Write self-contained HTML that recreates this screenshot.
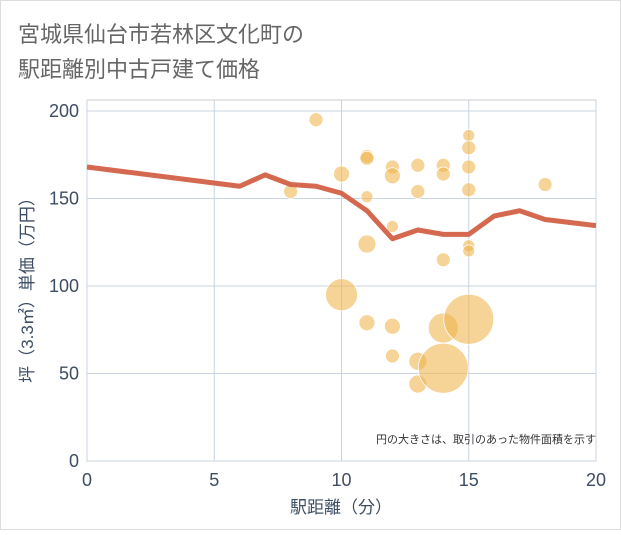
<!DOCTYPE html>
<html><head><meta charset="utf-8"><style>
body{margin:0;background:#fff;font-family:"Liberation Sans","Noto Sans CJK JP",sans-serif;}
svg text{font-family:"Liberation Sans","Noto Sans CJK JP",sans-serif;}
</style></head><body>
<svg width="621" height="530">
<rect x="0.5" y="0.5" width="620" height="529" fill="#fff" stroke="#ddd"/>
<text x="18" y="42" font-size="22" fill="#666">宮城県仙台市若林区文化町の</text>
<text x="18" y="77" font-size="22" fill="#666">駅距離別中古戸建て価格</text>
<g id="plot"></g>
<text x="596" y="443" font-size="11" fill="#333" text-anchor="end">円の大きさは、取引のあった物件面積を示す</text>
<text x="341" y="513" font-size="17" fill="#3d4d63" text-anchor="middle">駅距離（分）</text>
<text transform="translate(33,286) rotate(-90)" font-size="17" fill="#3d4d63" text-anchor="middle">坪（3.3㎡）単価（万円）</text>
</svg>
<script>
const xTicks=[0,5,10,15,20];
const yTicks=[0,50,100,150,200];
const lineX=[0,6,7,8,9,10,11,12,13,14,15,16,17,18,20];
const lineY=[168,157,163.5,158,157,153,143,127,132,129.5,129.5,140,143,138,134.5];
const bubX=[8,9,10,10,11,11,11,11,11,12,12,12,12,12,13,13,13,13,14,14,14,14,14,15,15,15,15,15,15,15,18];
const bubY=[154,195,164,95,174,173,151,124,79,168,163,134,77,60,169,154,57,44,169,164,115,76,53,186,179,168,155,123,120,81,158];
const bubR=[7,7,8,16,7,7,6,9,8,7,8,6,8,7,7,7,9,9,7,7,7,15,25,6,7,7,7,6,6,25,7];
const X0=87,X1=596,Y0=461,Y1=111;
const sx=v=>X0+(X1-X0)*v/20, sy=v=>Y0-(Y0-Y1)*v/200;
const NS="http://www.w3.org/2000/svg", g=document.getElementById('plot');
function mk(t,a){const e=document.createElementNS(NS,t);for(const k in a)e.setAttribute(k,a[k]);g.appendChild(e);return e;}
const frame=mk('rect',{x:X0,y:100,width:X1-X0,height:Y0-100,fill:'none',stroke:'#ccc'});


xTicks.forEach(t=>{const l=mk('line',{x1:sx(t),x2:sx(t),y1:100,y2:Y0,stroke:'#c8d4e2'});


const tx=mk('text',{x:sx(t),y:Y0+25,'font-size':18,fill:'#3d4d63','text-anchor':'middle'});tx.textContent=t;

});
yTicks.forEach(t=>{const l=mk('line',{x1:X0,x2:X1,y1:sy(t),y2:sy(t),stroke:'#c8d4e2'});


const tx=mk('text',{x:X0-8,y:sy(t)+6,'font-size':18,fill:'#3d4d63','text-anchor':'end'});tx.textContent=t;

});
bubX.forEach((x,i)=>{const c=mk('circle',{cx:sx(x),cy:sy(bubY[i]),r:bubR[i],fill:'#f0b550','fill-opacity':0.6,stroke:'#fff','stroke-width':0.8});

});
const p=mk('polyline',{points:lineX.map((x,i)=>sx(x)+','+sy(lineY[i])).join(' '),fill:'none',stroke:'#d4694f','stroke-width':5,'stroke-linejoin':'round'});


</script>
</body></html>
